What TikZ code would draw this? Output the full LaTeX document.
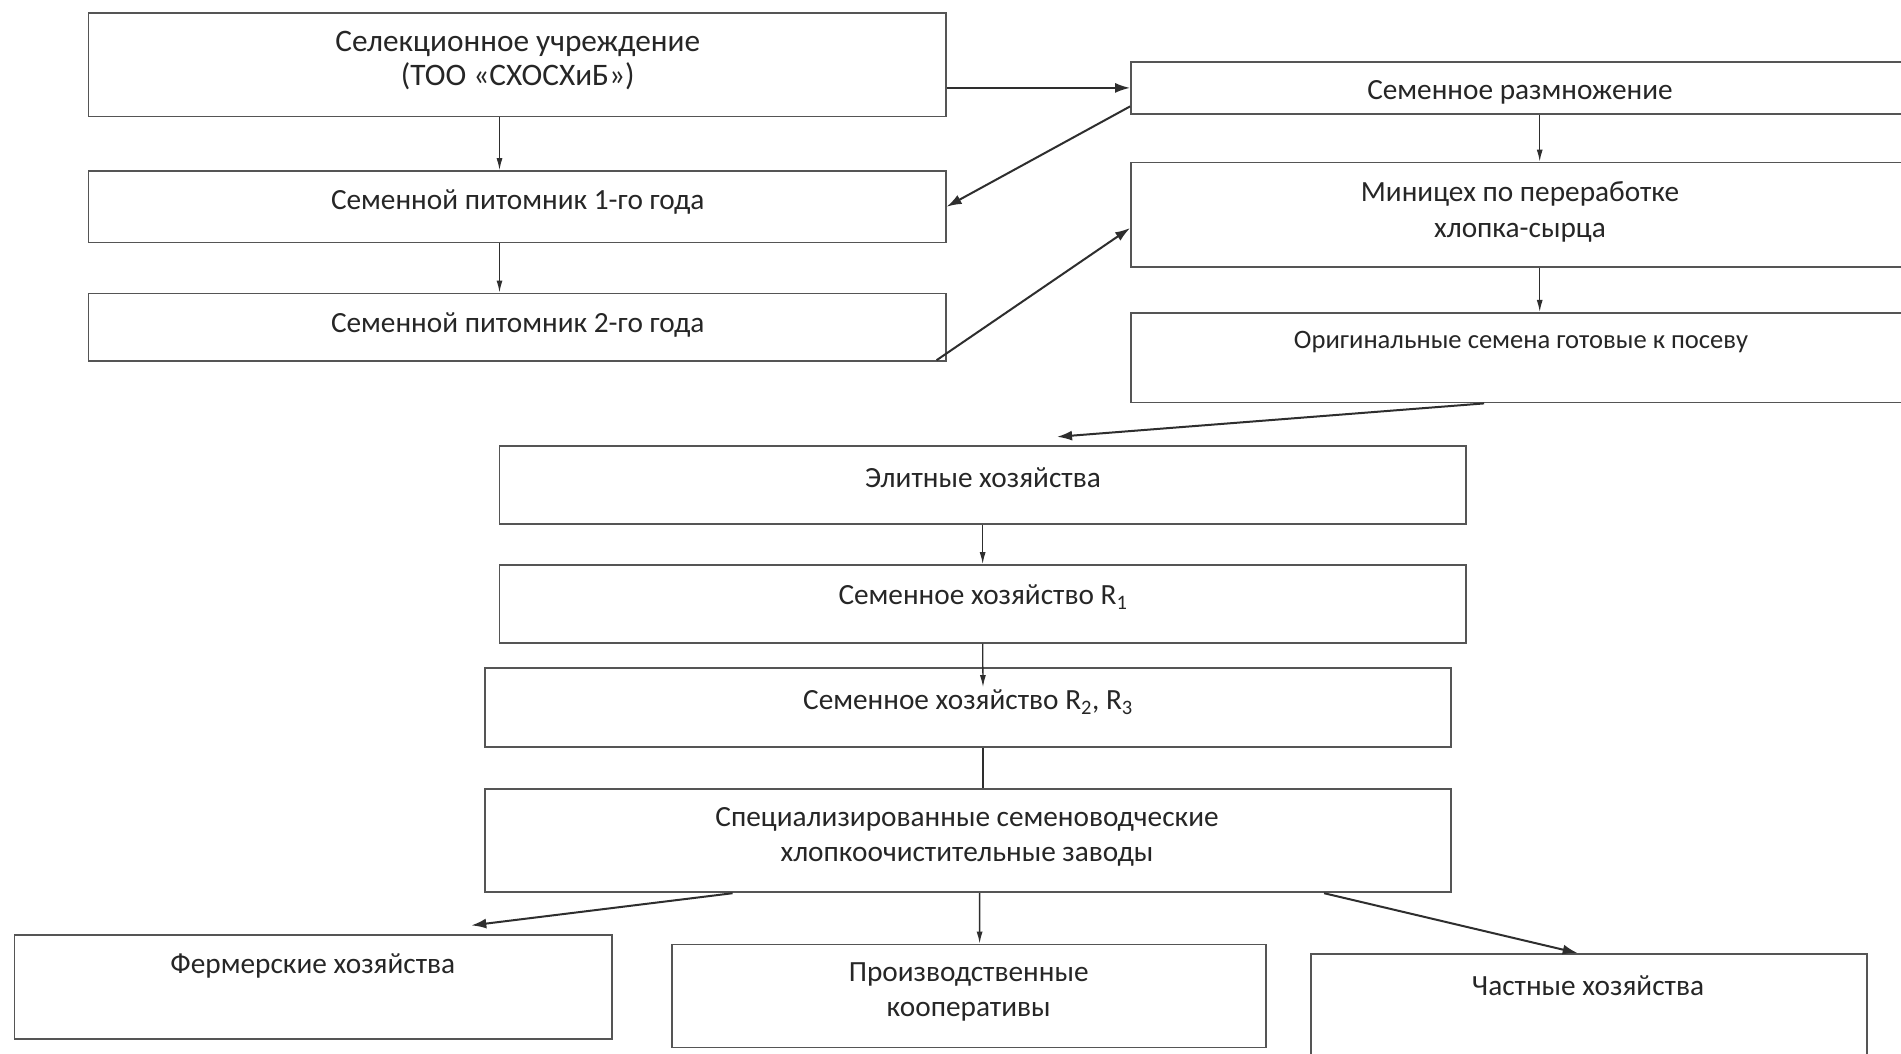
\documentclass[tikz,border=0pt]{standalone}
\usepackage{fontspec}
\setmainfont{Carlito}
\usetikzlibrary{arrows.meta,calc}
\definecolor{boxgray}{HTML}{555555}
\definecolor{arrcol}{HTML}{2E2E2E}
\definecolor{txtcol}{HTML}{262626}
\begin{document}
\begin{tikzpicture}[x=1pt,y=-1pt,
  box/.style={draw=boxgray, line width=1.8pt, inner sep=0pt, minimum width=#1},
  txt/.style={text=txtcol, font=\fontsize{29.3}{35}\selectfont, inner sep=0pt, align=center},
  bigtxt/.style={text=txtcol, font=\fontsize{31.3}{34}\selectfont, inner sep=0pt, align=center},
  arr/.style={draw=arrcol, line width=2pt, -{Latex[length=15pt,width=10pt]}},
  varr/.style={draw=arrcol, line width=1.3pt, -{Latex[length=12pt,width=6pt]}},
  ln/.style={draw=arrcol, line width=1.3pt}]
\useasboundingbox (0,0) rectangle (1901,1053);
\clip (0,0) rectangle (1901,1053);
\fill[white] (0,0) rectangle (1901,1053);

% boxes
\node[box=857.2pt, minimum height=103.1pt] (b1) at (517.1,64.85) {};
\node[box=857.2pt, minimum height=71.5pt] (b2) at (517.1,206.75) {};
\node[box=857.2pt, minimum height=67.9pt] (b3) at (517.1,327.35) {};
\node[box=784pt, minimum height=52.2pt] (b4) at (1523,87.9) {};
\node[box=784pt, minimum height=104.2pt] (b5) at (1523,214.6) {};
\node[box=784pt, minimum height=89.7pt] (b6) at (1523,357.65) {};
\node[box=966.3pt, minimum height=77.8pt] (b7) at (982.65,484.9) {};
\node[box=966.3pt, minimum height=77.6pt] (b8) at (982.65,603.8) {};
\node[box=966pt, minimum height=78.8pt] (b9) at (968,707.4) {};
\node[box=966pt, minimum height=103.3pt] (b10) at (968,840.65) {};
\node[box=597.5pt, minimum height=104.2pt] (b11) at (313.25,986.9) {};
\node[box=594pt, minimum height=103pt] (b12) at (968.7,996) {};
\node[box=556.4pt, minimum height=116pt] (b13) at (1588.8,1012) {};

% texts
\node[bigtxt] (t1) at (517.7,60.6) {Селекционное учреждение\\(ТОО «СХОСХиБ»)};
\node[txt] (t2) at (517.7,202.4) {Семенной питомник 1-го года};
\node[txt] (t3) at (517.7,324.9) {Семенной питомник 2-го года};
\node[txt] (t4) at (1520,92.1) {Семенное размножение};
\node[txt, font=\fontsize{29.3}{36.4}\selectfont] (t5) at (1520,212.2) {Миницех по переработке\\хлопка-сырца};
\node[txt, font=\fontsize{26.6}{30}\selectfont] (t6) at (1521,341.9) {Оригинальные семена готовые к посеву};
\node[txt] (t7) at (983,477.4) {Элитные хозяйства};
\node[txt] (t8) at (983,597.4) {Семенное хозяйство R\textsubscript{1}};
\node[txt] (t9) at (968,701.9) {Семенное хозяйство R\textsubscript{2}, R\textsubscript{3}};
\node[txt] (t10) at (967,837) {Специализированные семеноводческие\\хлопкоочистительные заводы};
\node[txt] (t11) at (312.8,966.4) {Фермерские хозяйства};
\node[txt, font=\fontsize{29.3}{35.5}\selectfont] (t12) at (968.7,992.1) {Производственные\\кооперативы};
\node[txt] (t13) at (1588,985.4) {Частные хозяйства};

% connectors
\draw[arr] (b1.east |- b4.west) -- (b4.west);
\coordinate (a2s) at ($(b4.south west)+(0,-8.5)$);
\draw[arr] (a2s) -- (b2.east);
\coordinate (a3s) at ($(b3.south east)+(-10,-2)$);
\coordinate (a3e) at ($(b5.west)+(0,13.4)$);
\draw[arr] (a3s) -- (a3e);
\coordinate (a4s) at ($(b6.south west)+(354,0)$);
\coordinate (a4e) at ($(b7.north)+(74.4,-8.3)$);
\draw[arr] (a4s) -- (a4e);

\draw[varr] ($(b1.south)+(-17.6,0)$) -- ($(b2.north)+(-17.6,0)$);
\draw[varr] ($(b2.south)+(-17.6,0)$) -- ($(b3.north)+(-17.6,0)$);
\draw[varr] ($(b4.south)+(16.7,0)$) -- ($(b5.north)+(16.7,0)$);
\draw[varr] ($(b5.south)+(16.7,0)$) -- ($(b6.north)+(16.7,0)$);
\draw[varr] (b7.south) -- (b8.north);
\coordinate (c9) at ($(b9.north)+(15,20)$);
\draw[varr] (b8.south) -- (c9);
\draw[ln] ($(b9.south)+(15,0)$) -- ($(b10.north)+(15,0)$);

\coordinate (a5s) at ($(b10.south west)+(248.5,0)$);
\coordinate (a5e) at ($(b11.north east)+(-141.6,-8.5)$);
\draw[arr] (a5s) -- (a5e);
\draw[varr] ($(b10.south)+(11.6,0)$) -- ($(b12.north)+(10.9,0)$);
\coordinate (a7s) at ($(b10.south west)+(840,0)$);
\coordinate (a7e) at ($(b13.north west)+(268,0)$);
\draw[arr] (a7s) -- (a7e);
\end{tikzpicture}
\end{document}
